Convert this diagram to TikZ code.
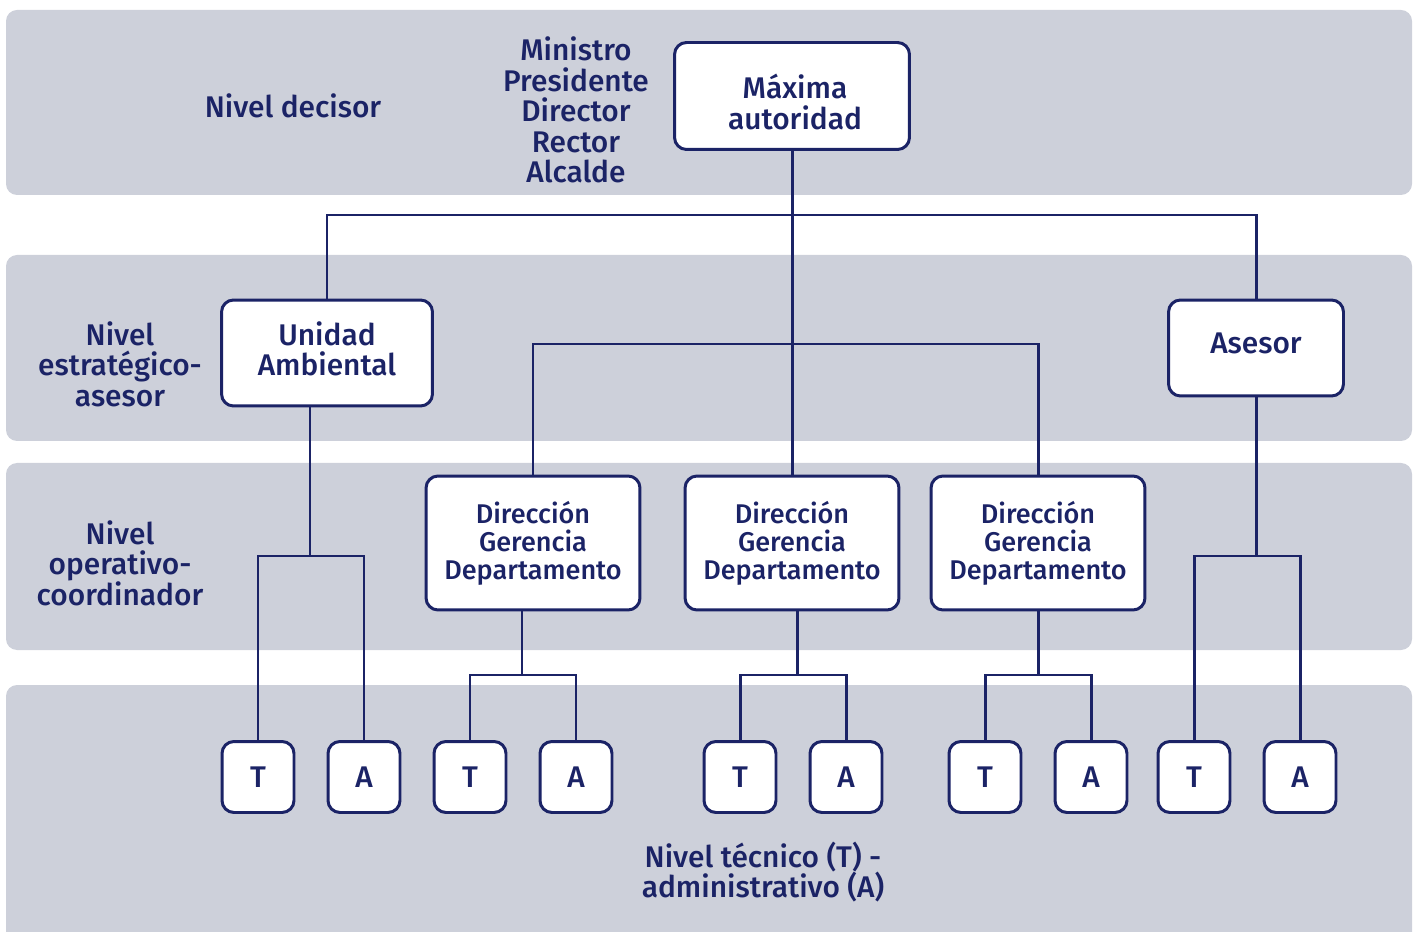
\documentclass[tikz,border=0pt]{standalone}
\usepackage{fontspec}
\setmainfont{Fira Sans}[UprightFont={* Medium}]
\definecolor{navy}{HTML}{1B2366}
\definecolor{band}{HTML}{CDD0DA}

\begin{document}
\begin{tikzpicture}[x=0.02cm,y=-0.02cm,
    every node/.style={text=navy},
    band/.style={fill=band,rounded corners=0.22cm},
    box/.style={draw=navy,line width=1.7pt,fill=white,rounded corners=0.24cm,
      align=center,inner sep=0pt},
    big/.style={font=\fontsize{17}{17.4}\selectfont},
    small/.style={font=\fontsize{15.4}{16}\selectfont},
    leaf/.style={box,big,minimum width=1.44cm,minimum height=1.42cm},
    link/.style={draw=navy,line width=1.7pt},
    ]
  \useasboundingbox (0,0) rectangle (1414,932);
  % level bands
  \fill[band] (6,10) rectangle (1412,195);
  \fill[band] (6,255) rectangle (1412,441);
  \fill[band] (6,463) rectangle (1412,650);
  \fill[band] (6,685) rectangle (1412,960);

  % level labels
  \node[big] (lvl1) at (293,106) {Nivel decisor};
  \node[big,align=center] (roles) at (576,110) {Ministro\\Presidente\\Director\\Rector\\Alcalde};
  \node[big,align=center] (lvl2) at (120,364) {Nivel\\estratégico-\\asesor};
  \node[big,align=center] (lvl3) at (120,563) {Nivel\\operativo-\\coordinador};
  \node[big,align=center] (lvl4) at (763,872) {Nivel técnico (T) -\\administrativo (A)};

  % boxes
  \node[box,big,minimum width=4.7cm,minimum height=2.14cm] (top) at (792,96) {};
  \node (toptext) at (795,102) [big,align=center] {Máxima\\autoridad};
  \node[box,big,minimum width=4.22cm,minimum height=2.12cm] (unidad) at (327,353) {};
  \node (unidadtext) at (327,349) [big,align=center] {Unidad\\Ambiental};
  \node[box,big,minimum width=3.5cm,minimum height=1.92cm] (asesor) at (1256,348) {};
  \node (asesortext) at (1256,343) [big] {Asesor};
  \foreach \x [count=\i] in {533,792,1038}{
    \node[box,small,minimum width=4.28cm,minimum height=2.68cm] (dir\i) at (\x,543)
      {Dirección\\Gerencia\\Departamento};
  }
  \foreach \x/\l [count=\i] in {258/T,364/A,470/T,576/A,740/T,846/A,985/T,1091/A,1194/T,1300/A}{
    \node[leaf] (leaf\i) at (\x,777) {\l};
  }

  % connectors
  \coordinate (split1) at (792,215);
  \coordinate (split2) at (792,344);
  \coordinate (ub) at (310,556);
  \coordinate (d1b) at (522,675);
  \coordinate (d2b) at (797,675);
  \coordinate (d3b) at (1038,675);
  \coordinate (ab) at (1256,556);
  \draw[link] (top.south) -- (dir2.north);
  \draw[link] (unidad.north) |- (split1) -| (asesor.north);
  \draw[link] (dir1.north) |- (split2) -| (dir3.north);
  \draw[link] (unidad.south -| ub) -- (ub);
  \draw[link] (leaf1.north) |- (ub) -| (leaf2.north);
  \draw[link] (dir1.south -| d1b) -- (d1b);
  \draw[link] (leaf3.north) |- (d1b) -| (leaf4.north);
  \draw[link] (dir2.south -| d2b) -- (d2b);
  \draw[link] (leaf5.north) |- (d2b) -| (leaf6.north);
  \draw[link] (dir3.south) -- (d3b);
  \draw[link] (leaf7.north) |- (d3b) -| (leaf8.north);
  \draw[link] (asesor.south) -- (ab);
  \draw[link] (leaf9.north) |- (ab) -| (leaf10.north);
\end{tikzpicture}
\end{document}
